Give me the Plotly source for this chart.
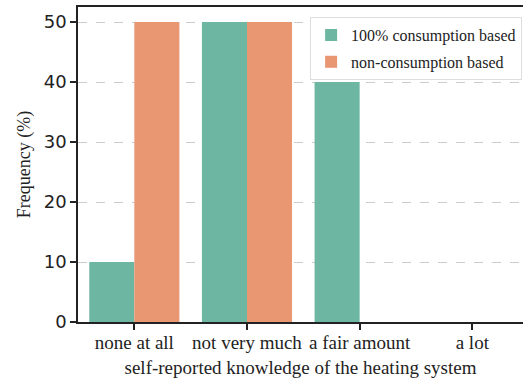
import plotly.graph_objects as go

categories = ["none at all", "not very much", "a fair amount", "a lot"]
consumption_100 = [10, 50, 40, 0]
non_consumption = [50, 50, 0, 0]
series_names = ["100% consumption based", "non-consumption based"]
y_ticks = [0, 10, 20, 30, 40, 50]

colors = ["#6db6a2", "#e99673"]
serif = "Liberation Serif, Times New Roman, serif"
sans = "DejaVu Sans, sans-serif"

fig = go.Figure()
for i, (name, vals, col) in enumerate(zip(series_names, [consumption_100, non_consumption], colors)):
    fig.add_trace(go.Bar(x=list(range(len(categories))), y=vals, name=name,
                         legendgroup=f"g{i}",
                         marker=dict(color=col, line=dict(width=0))))

fig.update_layout(
    width=523, height=378,
    margin=dict(l=78, r=0, t=7, b=56),
    plot_bgcolor="white", paper_bgcolor="white",
    barmode="group", bargap=0.2, bargroupgap=0,
    showlegend=True,
    legend=dict(x=0.998, y=0.968, xanchor="right", yanchor="top",
                bgcolor="white", bordercolor="#dddddd", borderwidth=1,
                font=dict(family=serif, size=16, color="#222222"),
                tracegroupgap=3),
    xaxis=dict(range=[-0.5, 3.45], tickvals=list(range(len(categories))),
               ticktext=categories, showgrid=False, zeroline=False,
               showline=True, linecolor="#222222", linewidth=1.5, mirror=True,
               ticks="outside", ticklen=6, tickwidth=1.5, tickcolor="#222222",
               ticklabelstandoff=-4,
               tickfont=dict(family=serif, size=19, color="#222222"),
               title=dict(text="self-reported knowledge of the heating system",
                          font=dict(family=serif, size=19, color="#222222"),
                          standoff=11)),
    yaxis=dict(range=[0, 52.5], tickvals=y_ticks, showgrid=True,
               gridcolor="#cccccc", griddash="dash", gridwidth=1,
               zeroline=False, showline=True, linecolor="#222222", linewidth=1.5,
               ticks="outside", ticklen=6, tickwidth=1.5, tickcolor="#222222",
               tickfont=dict(family=sans, size=18, color="#222222"),
               title=dict(text="Frequency (%)",
                          font=dict(family=serif, size=18, color="#222222"),
                          standoff=8)),
)

fig.write_html("out.html")
